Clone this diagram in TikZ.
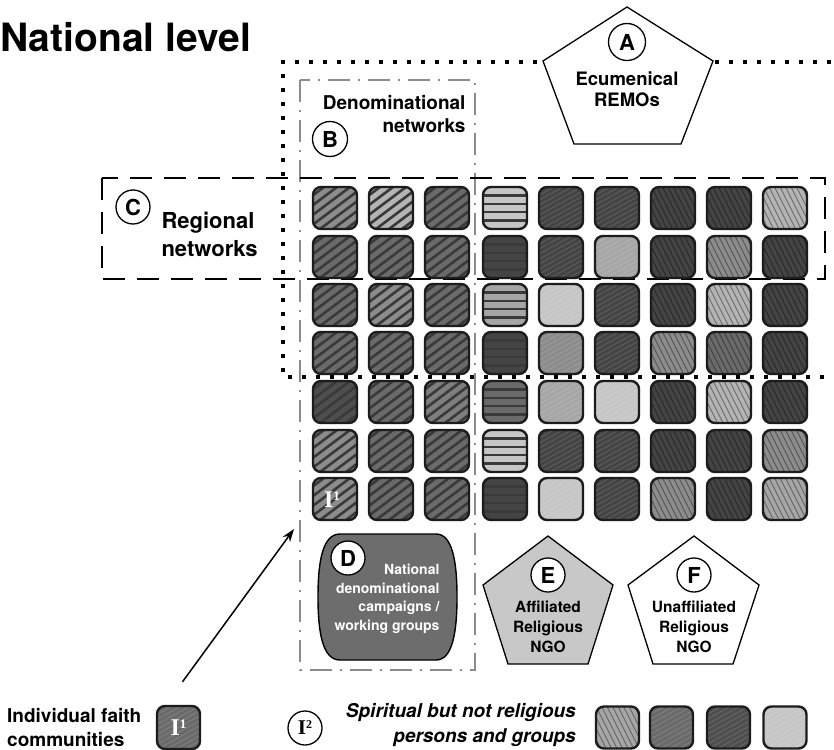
\documentclass[tikz,border=0pt]{standalone}
\usepackage{fontspec}
\setmainfont{TeX Gyre Heros}
\newfontfamily\serifbf{Liberation Serif}
\usetikzlibrary{arrows.meta,calc}
\definecolor{tileedge}{HTML}{1C1C1C}
\definecolor{hatchdark}{HTML}{3A3A3A}
\definecolor{cA}{HTML}{444444}
\definecolor{cB}{HTML}{4E4E4E}
\definecolor{cC}{HTML}{6A6A6A}
\definecolor{cD}{HTML}{7E7E7E}
\definecolor{cE}{HTML}{8C8C8C}
\definecolor{cF}{HTML}{A6A6A6}
\definecolor{cG}{HTML}{B4B4B4}
\definecolor{cH}{HTML}{C6C6C6}
\definecolor{dfill}{HTML}{6D6D6D}
\definecolor{efill}{HTML}{C8C8C8}
\definecolor{bgray}{HTML}{8C8C8C}
\tikzset{
  tile/.style={draw=tileedge, line width=2.4pt, rounded corners=8pt, minimum width=44pt, minimum height=42pt, inner sep=0pt},
  hb/.style={path picture={\foreach \k in {-5,...,5}{\draw[line width=2.6pt, hatchdark] ([xshift=\k*13pt]path picture bounding box.center) ++(-40pt,-30pt) -- ++(80pt,60pt);}}},
  hz/.style={path picture={\foreach \yy in {-12.5,-4.2,4.2,12.5}{\draw[line width=2.2pt, hatchdark] ([yshift=\yy pt]path picture bounding box.center) ++(-30pt,0pt) -- ++(60pt,0pt);}}},
  fne/.style={path picture={\foreach \k in {-8,...,8}{\draw[line width=1.1pt, white, opacity=0.12] ([yshift=\k*5pt]path picture bounding box.center) ++(-30pt,-16.5pt) -- ++(60pt,33pt);}}},
  fnw/.style={path picture={\foreach \k in {-7,...,7}{\draw[line width=0.9pt, black, opacity=0.4] ([xshift=\k*5.5pt]path picture bounding box.center) ++(-12pt,24pt) -- ++(24pt,-48pt);}}},
  lettercirc/.style={circle, draw, line width=1.3pt, minimum size=35pt, inner sep=0pt, font=\bfseries\fontsize{22}{22}\selectfont},
  pent/.style={draw, line width=1.3pt, line join=miter},
  lbl/.style={font=\bfseries\fontsize{#1}{#1}\selectfont},
  outerbox/.style={draw, line width=3.3pt, dash pattern=on 4pt off 10pt},
  regbox/.style={draw, line width=1.6pt, dash pattern=on 22pt off 12pt},
  denbox/.style={draw=bgray, line width=1.5pt, dash pattern=on 22pt off 8pt on 2pt off 8pt},
}
\begin{document}
\begin{tikzpicture}[x=1pt,y=-1pt]
\useasboundingbox (0,0) rectangle (834,749);
\fill[white] (0,0) rectangle (834,749);
% title
\node[anchor=base west, inner sep=0pt, lbl=39] (title) at (0,52) {National level};
% boxes
\draw[outerbox] (845,62) -- (283,62) -- (283,377) -- (845,377);
\draw[denbox] (300,80) rectangle (475,670);
\draw[regbox] (102,178) rectangle (825,279);
% pentagon A
\draw[pent, fill=white] (627,7) -- (713,61) -- (681,144) -- (574,144) -- (543,61) -- cycle;
\node[lettercirc, minimum size=37pt] (A) at (627,42) {A};
\node[lbl=18.5, align=center] (Atext) at (627,89) {Ecumenical\\[3pt]REMOs};
% B
\node[lettercirc] (B) at (330,139) {B};
\node[lbl=19, align=right, anchor=east] (Btext) at (469,114) {Denominational\\[4pt]networks};
% C
\node[lettercirc, minimum size=34pt] (C) at (133,207) {C};
\node[lbl=22, align=left, anchor=west] (Ctext) at (158,234) {Regional\\[6pt]networks};
% grid
\foreach \r/\c/\x/\y/\s/\col in {
 1/1/335/208/hb/cE, 1/2/391/208/hb/cG, 1/3/447/208/hb/cC, 1/4/505/208/hz/cH, 1/5/561/208/fne/cA, 1/6/617/208/fne/cA, 1/7/673/208/fnw/cA, 1/8/729/208/fnw/cA, 1/9/785/208/fnw/cG,
 2/1/335/257/hb/cC, 2/2/391/257/hb/cC, 2/3/447/257/hb/cC, 2/4/505/257/hz/cA, 2/5/561/257/fne/cA, 2/6/617/257/fne/cF, 2/7/673/257/fnw/cA, 2/8/729/257/fnw/cE, 2/9/785/257/fnw/cA,
 3/1/335/305/hb/cC, 3/2/391/305/hb/cE, 3/3/447/305/hb/cC, 3/4/505/305/hz/cF, 3/5/561/305/fne/cH, 3/6/617/305/fne/cA, 3/7/673/305/fnw/cA, 3/8/729/305/fnw/cG, 3/9/785/305/fnw/cA,
 4/1/335/353/hb/cC, 4/2/391/353/hb/cC, 4/3/447/353/hb/cC, 4/4/505/353/hz/cA, 4/5/561/353/fne/cE, 4/6/617/353/fne/cA, 4/7/673/353/fnw/cE, 4/8/729/353/fnw/cC, 4/9/785/353/fnw/cA,
 5/1/335/402/hb/cB, 5/2/391/402/hb/cC, 5/3/447/402/hb/cD, 5/4/505/402/hz/cC, 5/5/561/402/fne/cF, 5/6/617/402/fne/cH, 5/7/673/402/fnw/cA, 5/8/729/402/fnw/cG, 5/9/785/402/fnw/cA,
 6/1/335/451/hb/cE, 6/2/391/451/hb/cC, 6/3/447/451/hb/cC, 6/4/505/451/hz/cH, 6/5/561/451/fne/cA, 6/6/617/451/fne/cA, 6/7/673/451/fnw/cA, 6/8/729/451/fnw/cA, 6/9/785/451/fnw/cE,
 7/1/335/499/hb/cE, 7/2/391/499/hb/cC, 7/3/447/499/hb/cC, 7/4/505/499/hz/cA, 7/5/561/499/fne/cH, 7/6/617/499/fne/cA, 7/7/673/499/fnw/cE, 7/8/729/499/fnw/cA, 7/9/785/499/fnw/cF}{
  \node[tile, fill=\col, \s] (t-\r-\c) at (\x,\y) {};
}
\node[text=white, font=\serifbf\bfseries\fontsize{24}{24}\selectfont, inner sep=0pt] (I1grid) at (332,500) {I\raisebox{7pt}{\fontsize{13}{13}\selectfont 1}};
% D
\draw[fill=dfill, line width=1.4pt] (340,534) -- (436,534) .. controls (452,534) and (457,560) .. (457,597) .. controls (457,634) and (452,660) .. (436,660) -- (340,660) .. controls (323,660) and (318,634) .. (318,597) .. controls (318,560) and (323,534) .. (340,534) -- cycle;
\node[lettercirc, fill=white, minimum size=34pt] (D) at (348,558) {D};
\node[lbl=14, text=white, align=right, anchor=east] (Dtext) at (443,599) {National\\[4.5pt]denominational\\[4.5pt]campaigns /\\[4.5pt]working groups};
% E
\draw[pent, fill=efill] (548,536) -- (613,585) -- (588,664) -- (508,664) -- (483,585) -- cycle;
\node[lettercirc, fill=white, minimum size=34pt] (E) at (548,575) {E};
\node[lbl=15.5, align=center] (Etext) at (548,627) {Affiliated\\[4.5pt]Religious\\[4.5pt]NGO};
% F
\draw[pent, fill=white] (694,536) -- (759,585) -- (733,664) -- (653,664) -- (628,585) -- cycle;
\node[lettercirc, fill=white, minimum size=34pt] (F) at (694,575) {F};
\node[lbl=15.5, align=center] (Ftext) at (694,627) {Unaffiliated\\[4.5pt]Religious\\[4.5pt]NGO};
% legend
\node[lbl=19, align=left, anchor=west, inner sep=0pt] (legtext) at (7,727) {Individual faith\\[5pt]communities};
\node[tile, fill=cC, fne, text=white, font=\serifbf\bfseries\fontsize{24}{24}\selectfont, minimum width=43pt, minimum height=43pt] (legI) at (178.5,727.5) {I\raisebox{7pt}{\fontsize{13}{13}\selectfont 1}};
\node[circle, draw, line width=1.3pt, minimum size=34pt, inner sep=0pt, font=\serifbf\bfseries\fontsize{21}{21}\selectfont] (I2) at (305,728) {I\raisebox{6pt}{\fontsize{12}{12}\selectfont 2}};
\node[font=\bfseries\itshape\fontsize{19}{19}\selectfont, align=right, anchor=east, inner sep=0pt] (sbnr) at (576,725) {Spiritual but not religious\\[6pt]persons and groups};
\node[tile, fill=cF, fnw, minimum width=43pt, minimum height=42pt] (s1) at (617.5,727.5) {};
\node[tile, fill=cC, fne, minimum width=43pt, minimum height=42pt] (s2) at (671.5,727.5) {};
\node[tile, fill=cB, fne, minimum width=43pt, minimum height=42pt] (s3) at (728.5,727.5) {};
\node[tile, fill=cH, fne, minimum width=43pt, minimum height=42pt] (s4) at (785,727.5) {};
% arrow
\coordinate (arrowtip) at (294,529);
\draw[line width=1.5pt, -{Stealth[length=13pt, width=9pt]}] ([xshift=4pt,yshift=23pt]legI.north) -- (arrowtip);
\end{tikzpicture}
\end{document}
